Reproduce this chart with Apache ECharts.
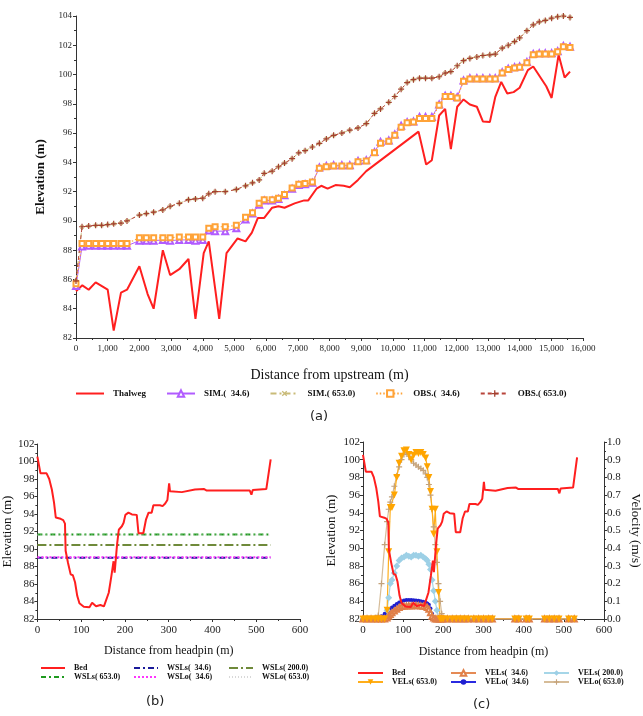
<!DOCTYPE html>
<html>
<head>
<meta charset="utf-8">
<title>Water surface profiles and velocity</title>
<script src="https://cdn.jsdelivr.net/npm/echarts@6/dist/echarts.min.js"></script>
<style>
  html, body { margin: 0; padding: 0; background: #fff; }
  #main { width: 643px; height: 716px; }
</style>
</head>
<body>
<div id="main"></div>
<script>
// (a) longitudinal profile
var thalwegX = [0,200,400,620,1000,1190,1420,1610,2000,2260,2450,2740,2970,3260,3550,3770,4030,4190,4520,4750,5100,5350,5550,5740,5940,6190,6390,6580,6900,7200,7330,7590,7740,7940,8190,8450,8640,8900,9160,10810,11050,11230,11460,11650,11830,12030,12230,12430,12650,12840,13060,13230,13420,13610,13810,14000,14260,14430,14840,15010,15230,15420,15590];
var thalwegZ = [85.2,85.6,85.3,85.8,85.3,82.5,85.1,85.3,86.9,85.0,84.0,88.0,86.3,86.7,87.4,83.3,87.8,88.6,83.3,87.8,88.8,88.6,89.2,90.2,90.2,90.9,91.0,90.9,91.2,91.4,91.4,92.2,92.4,92.2,92.45,92.4,92.3,92.8,93.4,96.1,93.85,94.15,97.2,97.65,94.9,97.8,98.3,97.95,97.8,96.8,96.75,98.45,99.5,98.7,98.8,99.1,100.3,100.55,99.2,98.4,101.35,99.8,100.2];

var secX = [0,190,400,620,810,1000,1190,1420,1610,2000,2220,2450,2740,2970,3260,3550,3770,4000,4190,4390,4710,5060,5350,5570,5780,5940,6190,6390,6580,6820,7030,7230,7460,7680,7900,8130,8390,8640,8900,9160,9420,9610,9870,10060,10260,10450,10650,10840,11030,11230,11460,11650,11830,12030,12230,12430,12650,12840,13060,13230,13450,13640,13840,14000,14230,14430,14620,14810,15010,15200,15380,15590];
var sim346 = [85.55,88.25,88.3,88.3,88.3,88.3,88.3,88.3,88.3,88.65,88.65,88.65,88.7,88.65,88.7,88.7,88.65,88.7,89.35,89.3,89.3,89.5,90.1,90.5,91.1,91.4,91.4,91.5,91.75,92.2,92.45,92.5,92.6,93.65,93.75,93.8,93.8,93.8,94.1,94.15,94.7,95.4,95.5,95.9,96.5,96.75,96.8,97.1,97.1,97.1,97.95,98.55,98.55,98.45,99.6,99.75,99.75,99.75,99.75,99.75,100.15,100.4,100.5,100.55,100.85,101.4,101.45,101.45,101.45,101.6,101.95,101.9];
var obs346 = [85.7,88.45,88.45,88.45,88.45,88.45,88.45,88.45,88.45,88.85,88.85,88.85,88.85,88.85,88.9,88.9,88.9,88.9,89.5,89.6,89.6,89.7,90.25,90.55,91.2,91.45,91.45,91.55,91.8,92.25,92.5,92.55,92.65,93.6,93.7,93.75,93.75,93.75,94.05,94.1,94.65,95.3,95.45,95.85,96.4,96.7,96.75,97.0,97.0,97.0,97.9,98.5,98.5,98.4,99.55,99.7,99.7,99.7,99.7,99.7,100.1,100.35,100.45,100.5,100.8,101.35,101.4,101.4,101.4,101.55,101.9,101.85];
var sim653 = [85.9,89.6,89.65,89.7,89.7,89.75,89.8,89.85,90.0,90.4,90.5,90.6,90.75,91.0,91.2,91.45,91.5,91.55,91.85,92.0,92.0,92.15,92.4,92.6,92.8,93.25,93.4,93.7,93.95,94.25,94.65,94.8,95.05,95.3,95.6,95.85,96.0,96.2,96.35,96.65,97.35,97.65,98.1,98.5,99.0,99.45,99.65,99.75,99.75,99.75,99.85,100.1,100.2,100.6,100.95,101.1,101.2,101.3,101.35,101.4,101.8,102.0,102.25,102.5,103.0,103.4,103.6,103.7,103.85,103.95,104.0,103.9];
var obs653 = sim653; // observed and simulated coincide at this scale

// (b) cross section and water levels
var bedX = [0,7,21,27,33,38,42,53,59,63,64.5,70,76,81,86,91,96,106,119,125,134,144,152,163,169,174,176.5,179.5,182,186,193,197,201,208,216,227,231,242,248,254,261,265,280,286,292,297,301,303,330,360,381,386,485,489,492,523,533];
var bedZ = [100.55,98.65,98.65,98.0,96.8,95.3,93.6,93.45,93.3,92.9,89.8,88.4,87.1,87.0,86.2,84.65,83.8,83.4,83.35,83.85,83.45,83.6,83.45,85.0,86.9,88.6,87.3,87.5,90.5,92.2,92.6,93.0,93.9,94.15,93.95,93.9,91.8,91.8,93.35,94.15,94.15,95.0,95.0,94.9,95.2,95.6,97.5,96.6,96.5,96.8,96.85,96.7,96.7,96.2,96.75,96.85,100.25];
var wslX = [0, 533];
var wsls346 = [89.0, 89.0];
var wsls200 = [90.45, 90.45];
var wsls653 = [91.65, 91.65];
var wslo346 = [89.07, 89.07];
var wslo653 = [91.6, 91.6];

// (c) velocity across the section
var velX = [0,10,20,30,38,46,54,60,64,68,72,78,84,90,96,102,108,114,120,126,132,138,144,150,156,160,164,168,172,176,180,184,188,192,196,200,210,222,232,242,252,262,276,288,300,312,322,378,388,406,414,452,464,476,488,512,526];
var vels346 = [0,0,0,0,0,0,0,0.005,0.015,0.025,0.035,0.045,0.055,0.065,0.07,0.072,0.074,0.075,0.074,0.075,0.076,0.075,0.074,0.072,0.07,0.065,0.055,0.035,0.015,0.005,0,0,0,0,0,0,0,0,0,0,0,0,0,0,0,0,0,0,0,0,0,0,0,0,0,0,0];
var vels200 = [0,0,0,0,0,0,0,0.05,0.12,0.2,0.22,0.26,0.3,0.33,0.345,0.35,0.36,0.355,0.35,0.36,0.36,0.355,0.36,0.35,0.34,0.33,0.31,0.28,0.22,0.16,0.1,0.05,0,0,0,0,0,0,0,0,0,0,0,0,0,0,0,0,0,0,0,0,0,0,0,0,0];
var vels653 = [0,0,0,0,0,0,0,0.05,0.38,0.63,0.63,0.7,0.8,0.88,0.92,0.95,0.955,0.93,0.9,0.925,0.94,0.935,0.94,0.93,0.91,0.86,0.8,0.72,0.62,0.48,0.62,0.38,0.15,0,0,0,0,0,0,0,0,0,0,0,0,0,0,0,0,0,0,0,0,0,0,0,0];
var velo346 = [0,0,0,0,0.002,0.015,0.03,0.042,0.05,0.058,0.065,0.075,0.085,0.093,0.1,0.104,0.107,0.108,0.107,0.106,0.105,0.103,0.1,0.097,0.093,0.088,0.08,0.06,0.03,0.01,0.003,0,0,0,0,0,0,0,0,0,0,0,0,0,0,0,0,0,0,0,0,0,0,0,0,0,0];
var velo653 = [0,0,0,0,0.02,0.2,0.42,0.55,0.62,0.66,0.69,0.75,0.81,0.86,0.9,0.93,0.94,0.92,0.9,0.88,0.87,0.86,0.85,0.84,0.82,0.8,0.76,0.7,0.62,0.52,0.42,0.32,0.2,0.1,0.03,0,0,0,0,0,0,0,0,0,0,0,0,0,0,0,0,0,0,0,0,0,0];

var SERIF = '"Liberation Serif", "Times New Roman", serif';
var PLUS = 'path://M4,0H6V4H10V6H6V10H4V6H0V4H4Z';

function pairs(xs, ys) {
	var out = [];
	for (var i = 0; i < xs.length; i++) out.push([xs[i], ys[i]]);
	return out;
}
function comma(v) {
	return String(v).replace(/\B(?=(\d{3})+(?!\d))/g, ',');
}
// legend entry for a series drawn without markers
function plain(name) {
	return { name: name, itemStyle: { opacity: 0 } };
}

function axis(o) {
	var a = {
		type: 'value',
		gridIndex: o.grid,
		min: o.min, max: o.max, interval: o.interval,
		name: o.name, nameLocation: 'middle', nameGap: o.nameGap,
		nameTextStyle: { fontFamily: SERIF, fontSize: o.nameSize, fontWeight: o.nameWeight || 'normal', color: '#111' },
		axisLine: { show: true, lineStyle: { color: '#333', width: 1 } },
		axisTick: { show: true, length: 3, lineStyle: { color: '#333' } },
		minorTick: { show: true, splitNumber: 2, length: 2, lineStyle: { color: '#333' } },
		splitLine: { show: false },
		axisLabel: { fontFamily: SERIF, fontSize: o.labelSize, color: '#222', margin: o.margin, formatter: o.formatter }
	};
	if (o.position) a.position = o.position;
	if (o.nameRotate !== undefined) a.nameRotate = o.nameRotate;
	return a;
}

var legendText = function(size) {
	return { fontFamily: SERIF, fontWeight: 'bold', fontSize: size, color: '#111', padding: [0, 0, 0, 4] };
};

var chart = echarts.init(document.getElementById('main'));
chart.setOption({
	animation: false,
	backgroundColor: '#fff',
	grid: [
		{ left: 76, top: 16, width: 507, height: 322 },
		{ left: 35, top: 444, width: 265, height: 175 },
		{ left: 363, top: 442, width: 243, height: 177 }
	],
	xAxis: [
		axis({ grid: 0, min: 0, max: 16000, interval: 1000, name: 'Distance from upstream (m)', nameGap: 30, nameSize: 14, labelSize: 9, margin: 6, formatter: comma }),
		axis({ grid: 1, min: 0, max: 600, interval: 100, name: 'Distance from headpin (m)', nameGap: 26, nameSize: 12, labelSize: 11, margin: 6 }),
		axis({ grid: 2, min: 0, max: 600, interval: 100, name: 'Distance from headpin (m)', nameGap: 27, nameSize: 12, labelSize: 11, margin: 6 })
	],
	yAxis: [
		axis({ grid: 0, min: 82, max: 104, interval: 2, name: 'Elevation (m)', nameGap: 28, nameSize: 13, nameWeight: 'bold', labelSize: 9, margin: 4 }),
		axis({ grid: 1, min: 82, max: 102, interval: 2, name: 'Elevation (m)', nameGap: 22, nameSize: 13, labelSize: 11, margin: 3 }),
		axis({ grid: 2, min: 82, max: 102, interval: 2, name: 'Elevation (m)', nameGap: 25, nameSize: 13, labelSize: 11, margin: 3 }),
		axis({ grid: 2, position: 'right', min: 0, max: 1, interval: 0.1, name: 'Velocity (m/s)', nameRotate: -90, nameGap: 25, nameSize: 13, labelSize: 11, margin: 3,
			formatter: function(v) { return v.toFixed(1); } })
	],
	legend: [
		{ data: [plain('Thalweg'), 'SIM.(  34.6)', 'SIM.( 653.0)', 'OBS.(  34.6)', 'OBS.( 653.0)'], left: 70, top: 384,
			itemWidth: 28, itemHeight: 8, itemGap: 20, selectedMode: false, textStyle: legendText(9) },
		{ orient: 'vertical', left: 35, top: 659, itemWidth: 24, itemHeight: 8, itemGap: 1, selectedMode: false,
			data: [plain('Bed'), plain('WSLs( 653.0)')], textStyle: legendText(8) },
		{ orient: 'vertical', left: 128, top: 659, itemWidth: 24, itemHeight: 8, itemGap: 1, selectedMode: false,
			data: [plain('WSLs(  34.6)'), plain('WSLo(  34.6)')], textStyle: legendText(8) },
		{ orient: 'vertical', left: 223, top: 659, itemWidth: 24, itemHeight: 8, itemGap: 1, selectedMode: false,
			data: [plain('WSLs( 200.0)'), plain('WSLo( 653.0)')], textStyle: legendText(8) },
		{ orient: 'vertical', left: 352, top: 664, itemWidth: 25, itemHeight: 7, itemGap: 1, selectedMode: false,
			data: [plain('Bed'), 'VELs( 653.0)'], textStyle: legendText(8) },
		{ orient: 'vertical', left: 445, top: 664, itemWidth: 25, itemHeight: 7, itemGap: 1, selectedMode: false,
			data: ['VELs(  34.6)', 'VELo(  34.6)'], textStyle: legendText(8) },
		{ orient: 'vertical', left: 538, top: 664, itemWidth: 25, itemHeight: 7, itemGap: 1, selectedMode: false,
			data: ['VELs( 200.0)', 'VELo( 653.0)'], textStyle: legendText(8) }
	],
	graphic: [
		{ type: 'text', left: 310, top: 410, style: { text: '(a)', font: '13px "DejaVu Sans"', fill: '#222' } },
		{ type: 'text', left: 146, top: 695, style: { text: '(b)', font: '13px "DejaVu Sans"', fill: '#222' } },
		{ type: 'text', left: 473, top: 698, style: { text: '(c)', font: '13px "DejaVu Sans"', fill: '#222' } }
	],
	series: [
		// (a)
		{ name: 'Thalweg', type: 'line', xAxisIndex: 0, yAxisIndex: 0, data: pairs(thalwegX, thalwegZ), symbol: 'none',
			lineStyle: { color: '#ff1f1f', width: 2 }, itemStyle: { color: '#ff1f1f' } },
		{ name: 'SIM.(  34.6)', type: 'line', xAxisIndex: 0, yAxisIndex: 0, data: pairs(secX, sim346), symbol: 'emptyTriangle', symbolSize: 6,
			lineStyle: { color: '#b15cff', width: 1 }, itemStyle: { color: '#b15cff', borderWidth: 1 } },
		{ name: 'SIM.( 653.0)', type: 'line', xAxisIndex: 0, yAxisIndex: 0, data: pairs(secX, sim653), symbol: PLUS, symbolRotate: 45, symbolSize: 5,
			lineStyle: { color: '#c9bb78', width: 1, type: [6, 3, 2, 3] }, itemStyle: { color: '#c9bb78' } },
		{ name: 'OBS.(  34.6)', type: 'line', xAxisIndex: 0, yAxisIndex: 0, data: pairs(secX, obs346), symbol: 'emptyRect', symbolSize: 5,
			lineStyle: { color: '#ffa338', width: 1.2, type: [1.5, 2] }, itemStyle: { color: '#ffa338', borderWidth: 1 } },
		{ name: 'OBS.( 653.0)', type: 'line', xAxisIndex: 0, yAxisIndex: 0, data: pairs(secX, obs653), symbol: PLUS, symbolSize: 6,
			lineStyle: { color: '#b8453b', width: 1, type: [4, 3] }, itemStyle: { color: '#a3402f' } },

		// (b)
		{ name: 'Bed', type: 'line', xAxisIndex: 1, yAxisIndex: 1, data: pairs(bedX, bedZ), symbol: 'none', z: 5,
			lineStyle: { color: '#ff1f1f', width: 2 }, itemStyle: { color: '#ff1f1f' } },
		{ name: 'WSLs( 653.0)', type: 'line', xAxisIndex: 1, yAxisIndex: 1, data: pairs(wslX, wsls653), symbol: 'none',
			lineStyle: { color: '#1f9a1f', width: 2, type: [5, 3, 2, 3] }, itemStyle: { color: '#1f9a1f' } },
		{ name: 'WSLs( 200.0)', type: 'line', xAxisIndex: 1, yAxisIndex: 1, data: pairs(wslX, wsls200), symbol: 'none',
			lineStyle: { color: '#6f8a3a', width: 2, type: [9, 3, 2, 3] }, itemStyle: { color: '#6f8a3a' } },
		{ name: 'WSLs(  34.6)', type: 'line', xAxisIndex: 1, yAxisIndex: 1, data: pairs(wslX, wsls346), symbol: 'none',
			lineStyle: { color: '#1a1a9a', width: 2, type: [6, 3, 2, 3] }, itemStyle: { color: '#1a1a9a' } },
		{ name: 'WSLo(  34.6)', type: 'line', xAxisIndex: 1, yAxisIndex: 1, data: pairs(wslX, wslo346), symbol: 'none',
			lineStyle: { color: '#ff33ff', width: 2, type: [2, 2] }, itemStyle: { color: '#ff33ff' } },
		{ name: 'WSLo( 653.0)', type: 'line', xAxisIndex: 1, yAxisIndex: 1, data: pairs(wslX, wslo653), symbol: 'none',
			lineStyle: { color: '#d8d8d8', width: 1, type: [1, 2] }, itemStyle: { color: '#d8d8d8' } },

		// (c)
		{ name: 'VELo(  34.6)', type: 'line', xAxisIndex: 2, yAxisIndex: 3, data: pairs(velX, velo346), symbol: 'circle', symbolSize: 4,
			lineStyle: { color: '#2a2ae0', width: 1.2 }, itemStyle: { color: '#1f1fd0' } },
		{ name: 'VELs( 200.0)', type: 'line', xAxisIndex: 2, yAxisIndex: 3, data: pairs(velX, vels200), symbol: 'diamond', symbolSize: 7,
			lineStyle: { color: '#a6d6e8', width: 1.2 }, itemStyle: { color: '#9dd0e6' } },
		{ name: 'VELo( 653.0)', type: 'line', xAxisIndex: 2, yAxisIndex: 3, data: pairs(velX, velo653), symbol: PLUS, symbolSize: 6,
			lineStyle: { color: '#d6bc98', width: 1.2 }, itemStyle: { color: '#c4a27a' } },
		{ name: 'VELs(  34.6)', type: 'line', xAxisIndex: 2, yAxisIndex: 3, data: pairs(velX, vels346), symbol: 'emptyTriangle', symbolSize: 5,
			lineStyle: { color: '#e58a55', width: 1 }, itemStyle: { color: '#e07f48', borderWidth: 1 } },
		{ name: 'VELs( 653.0)', type: 'line', xAxisIndex: 2, yAxisIndex: 3, data: pairs(velX, vels653), symbol: 'triangle', symbolRotate: 180, symbolSize: 7,
			lineStyle: { color: '#ffae1a', width: 1.2 }, itemStyle: { color: '#ffa500' } },
		{ name: 'Bed', type: 'line', xAxisIndex: 2, yAxisIndex: 2, data: pairs(bedX, bedZ), symbol: 'none', z: 5,
			lineStyle: { color: '#ff1f1f', width: 2 }, itemStyle: { color: '#ff1f1f' } }
	]
});
</script>
</body>
</html>
